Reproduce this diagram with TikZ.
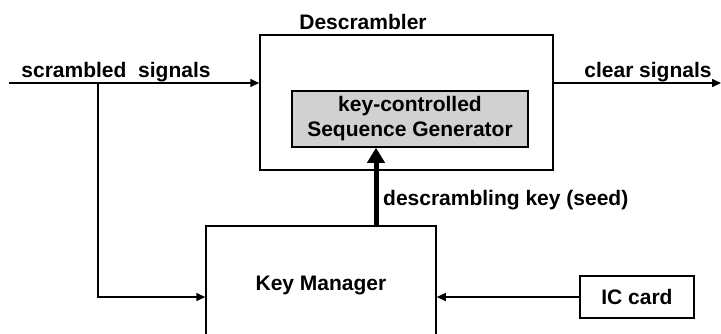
\documentclass[tikz,border=0pt]{standalone}
\usepackage{fontspec}
\setmainfont{Liberation Sans}
\usetikzlibrary{arrows.meta}
\begin{document}
\begin{tikzpicture}[x=1pt,y=-1pt,
  every node/.style={font=\fontsize{21}{25}\selectfont\bfseries},
  box/.style={draw,line width=1.5pt,inner sep=0pt},
  wire/.style={line width=1.5pt},
  tip/.style={-{Triangle[length=9pt,width=8pt]}},
  keyline/.style={line width=5pt,-{Triangle[length=15pt,width=17pt]}},
  lbl/.style={inner sep=0pt}]
\useasboundingbox (0,0) rectangle (721,333);
\clip (0,0) rectangle (721,333);

% blocks
\node[box,minimum width=293pt,minimum height=135pt] (desc) at (406.5,102.5) {};
\node[box,fill=black!18,minimum width=236pt,minimum height=56pt,align=center,font=\fontsize{21}{25}\selectfont\bfseries] (gen) at (410,119) {key-controlled\\Sequence Generator};
\node[box,minimum width=230pt,minimum height=119pt] (km) at (321,285.5) {Key Manager};
\node[box,minimum width=114pt,minimum height=42pt] (ic) at (637,297) {IC card};

% labels
\node[lbl] (dlab) at (363,22) {Descrambler};
\node[lbl] (slab) at (116,72) {scrambled\ \ signals};
\node[lbl] (clab) at (648,72) {clear signals};
\node[lbl,anchor=west] (klab) at (383,200) {descrambling key (seed)};

% signal path
\coordinate (in) at (9,83);
\coordinate (out) at (721,83);
\coordinate (branch) at (98,83);
\coordinate (kx) at (376,0);
\draw[wire,tip] (in) -- (in -| desc.west);
\draw[wire,tip] (out -| desc.east) -- (out);
\draw[wire,tip] (branch) |- (ic -| km.west);
\draw[wire,tip] (ic.west) -- (ic -| km.east);
\draw[keyline] (kx |- km.north) -- (kx |- gen.south);
\end{tikzpicture}
\end{document}
